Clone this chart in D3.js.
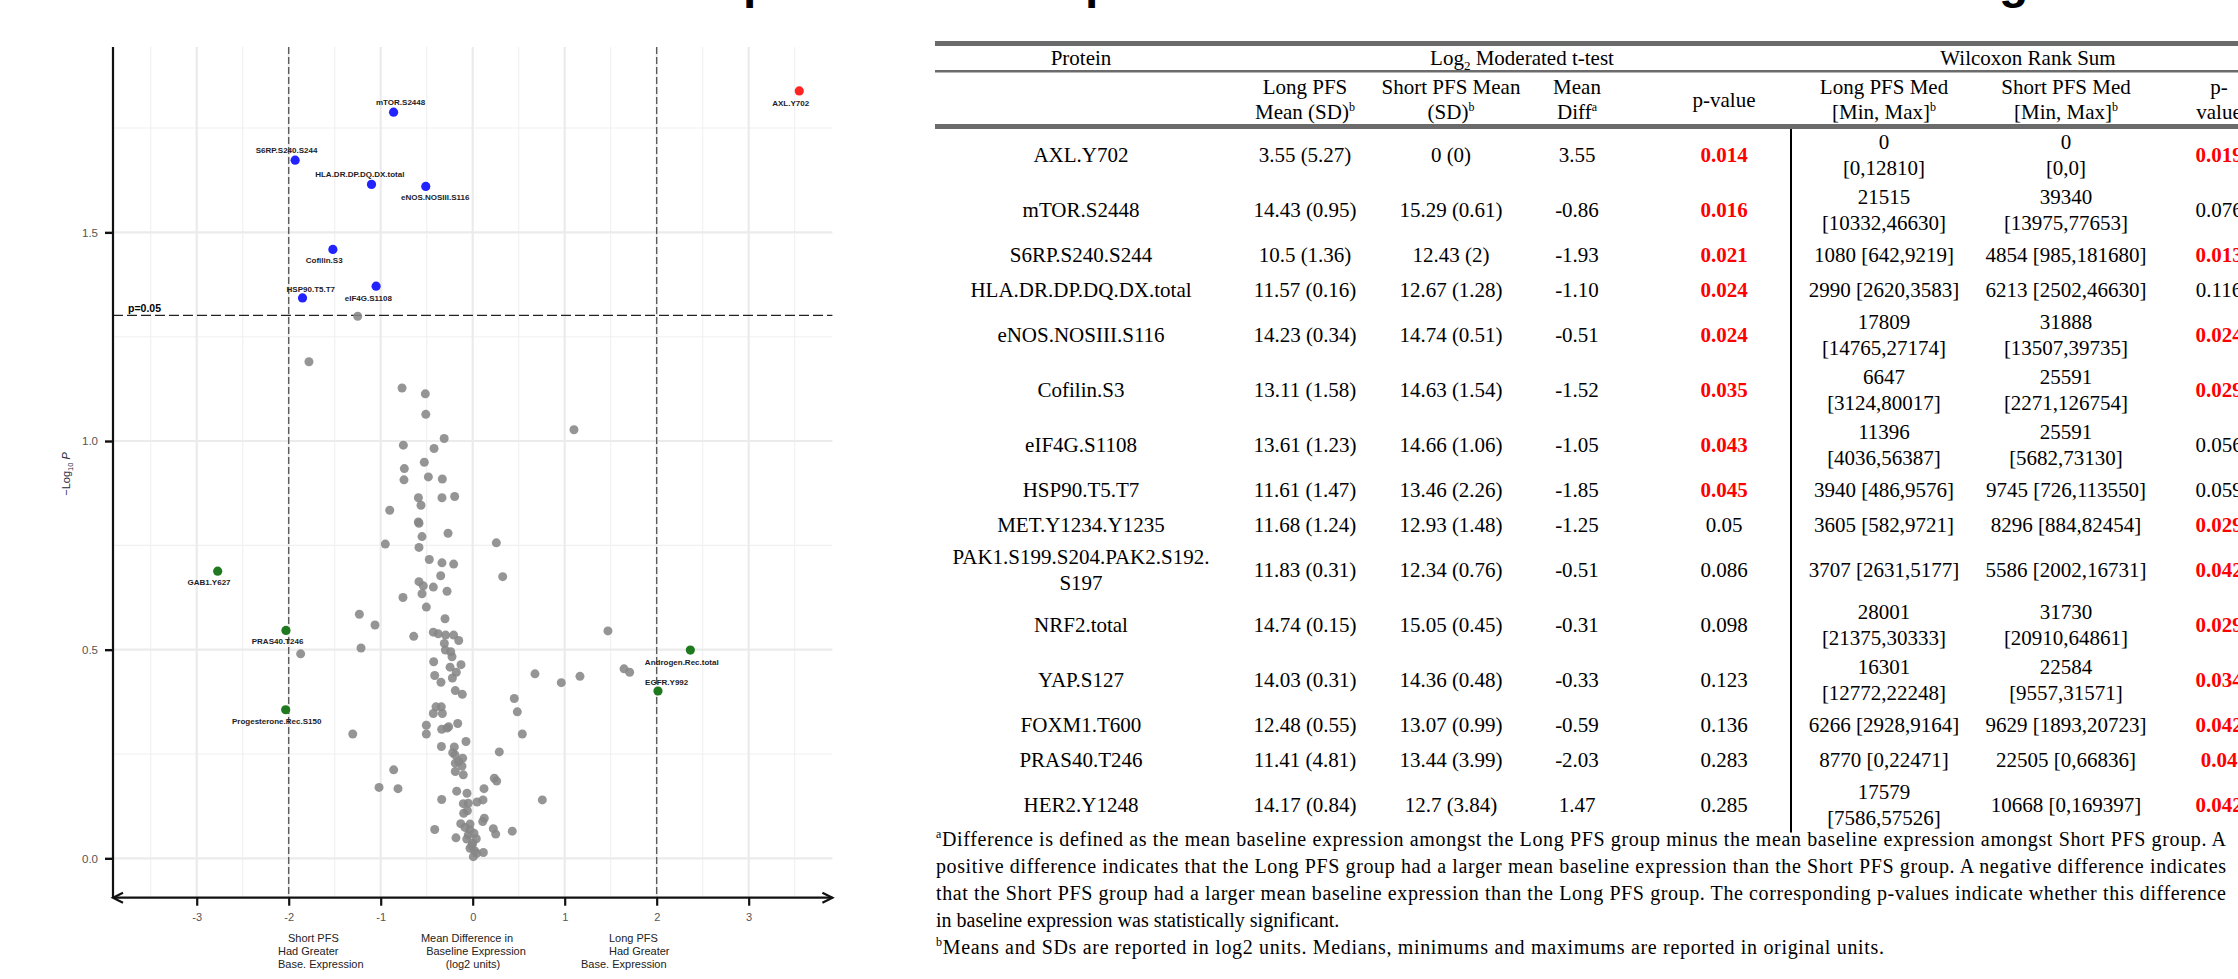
<!DOCTYPE html>
<html>
<head>
<meta charset="utf-8">
<script src="https://cdn.jsdelivr.net/npm/d3@7"></script>
<style>
  html, body { margin: 0; padding: 0; background: #fff; overflow: hidden; }
  svg { display: block; }
</style>
</head>
<body>
<svg id="fig" width="2238" height="979"></svg>
<script>
// ---------------- volcano plot data ----------------
// proteins that did not reach significance (mean difference, -log10 p)
const grayX = [-1.78,-1.25,-0.768,-0.515,-0.51,-0.31,-0.754,-0.42,1.101,-0.526,-0.743,-0.482,-0.33,-0.747,-0.59,-0.334,-0.196,-0.562,
  -0.902,-0.591,-0.584,-0.551,-0.268,-0.950,-0.584,0.257,-0.472,-0.334,-0.207,0.326,-0.348,-0.584,-0.537,-0.428,-0.279,-0.551,-0.758,-0.504,
  -1.232,-0.301,-1.062,-0.641,-0.428,-0.374,-0.294,-0.207,-0.152,-0.308,-1.214,-1.870,-0.297,-0.239,-0.225,-0.424,-0.127,-0.246,-0.178,-0.413,
  -0.221,-0.345,-0.189,-0.113,-0.399,-0.341,-0.428,-0.330,-0.163,-0.504,-0.337,-0.279,-0.261,-0.504,-1.304,-0.073,-0.340,-0.200,-0.217,-0.192,
  -0.109,-0.152,-0.189,-0.116,-0.859,-0.189,-0.102,-1.018,-0.812,-0.174,-0.062,-0.337,
  0.677,0.963,1.166,0.452,0.485,0.539,0.289,0.123,0.235,0.261,0.757,-0.102,-0.048,0.047,0.112,-0.058,-0.098,0.126,0.109,-0.413,
  -0.130,-0.084,-0.029,-0.029,0.014,-0.048,0.039,-0.065,-0.182,0.224,0.250,0.430,-0.029,0.000,0.116,0.007,0.043,0.020,-0.010,
  1.47,1.645,1.706];
const grayY = [1.190,1.299,1.127,1.113,1.064,1.006,0.990,0.982,1.027,0.949,0.934,0.914,0.909,0.907,0.864,0.864,0.867,0.846,
  0.834,0.806,0.803,0.771,0.779,0.753,0.745,0.756,0.716,0.708,0.705,0.675,0.677,0.663,0.653,0.650,0.640,0.634,0.625,0.602,
  0.585,0.574,0.559,0.532,0.542,0.538,0.535,0.535,0.522,0.515,0.504,0.490,0.499,0.495,0.483,0.471,0.464,0.458,0.446,0.438,
  0.432,0.422,0.402,0.393,0.363,0.363,0.347,0.347,0.323,0.319,0.309,0.312,0.315,0.298,0.298,0.280,0.268,0.267,0.253,0.248,
  0.240,0.232,0.228,0.221,0.212,0.208,0.200,0.170,0.167,0.161,0.156,0.141,
  0.442,0.421,0.436,0.383,0.351,0.298,0.255,0.167,0.192,0.185,0.140,0.131,0.132,0.135,0.140,0.114,0.108,0.096,0.088,0.069,
  0.083,0.074,0.082,0.068,0.060,0.056,0.047,0.046,0.049,0.071,0.058,0.065,0.024,0.036,0.014,0.004,0.012,0.018,0.030,
  0.545,0.454,0.446];

// labelled proteins
const hitNames = ["AXL.Y702","mTOR.S2448","S6RP.S240.S244","HLA.DR.DP.DQ.DX.total","eNOS.NOSIII.S116","Cofilin.S3",
  "eIF4G.S1108","HSP90.T5.T7","GAB1.Y627","PRAS40.T246","Progesterone.Rec.S150","Androgen.Rec.total","EGFR.Y992"];
const hitX = [3.55,-0.86,-1.93,-1.10,-0.51,-1.52,-1.05,-1.85,-2.772,-2.03,-2.033,2.366,2.014];
const hitY = [1.839,1.788,1.673,1.615,1.610,1.459,1.371,1.343,0.688,0.546,0.356,0.499,0.401];
const hitGroup = ["higher","lower","lower","lower","lower","lower","lower","lower","foldchange","foldchange","foldchange","foldchange","foldchange"];

const xTicks = [-3,-2,-1,0,1,2,3];
const yTicks = [0,0.5,1.0,1.5];
const pCutoff = 0.05;
const foldCut = [-2, 2];

// ---------------- table data ----------------
const proteins = ["AXL.Y702","mTOR.S2448","S6RP.S240.S244","HLA.DR.DP.DQ.DX.total","eNOS.NOSIII.S116","Cofilin.S3",
  "eIF4G.S1108","HSP90.T5.T7","MET.Y1234.Y1235","PAK1.S199.S204.PAK2.S192.\nS197","NRF2.total","YAP.S127",
  "FOXM1.T600","PRAS40.T246","HER2.Y1248"];
const longMean = ["3.55 (5.27)","14.43 (0.95)","10.5 (1.36)","11.57 (0.16)","14.23 (0.34)","13.11 (1.58)","13.61 (1.23)",
  "11.61 (1.47)","11.68 (1.24)","11.83 (0.31)","14.74 (0.15)","14.03 (0.31)","12.48 (0.55)","11.41 (4.81)","14.17 (0.84)"];
const shortMean = ["0 (0)","15.29 (0.61)","12.43 (2)","12.67 (1.28)","14.74 (0.51)","14.63 (1.54)","14.66 (1.06)",
  "13.46 (2.26)","12.93 (1.48)","12.34 (0.76)","15.05 (0.45)","14.36 (0.48)","13.07 (0.99)","13.44 (3.99)","12.7 (3.84)"];
const meanDiff = [3.55,-0.86,-1.93,-1.10,-0.51,-1.52,-1.05,-1.85,-1.25,-0.51,-0.31,-0.33,-0.59,-2.03,1.47];
const tPvalue = [0.014,0.016,0.021,0.024,0.024,0.035,0.043,0.045,0.05,0.086,0.098,0.123,0.136,0.283,0.285];
const longMed = ["0\n[0,12810]","21515\n[10332,46630]","1080 [642,9219]","2990 [2620,3583]","17809\n[14765,27174]",
  "6647\n[3124,80017]","11396\n[4036,56387]","3940 [486,9576]","3605 [582,9721]","3707 [2631,5177]",
  "28001\n[21375,30333]","16301\n[12772,22248]","6266 [2928,9164]","8770 [0,22471]","17579\n[7586,57526]"];
const shortMed = ["0\n[0,0]","39340\n[13975,77653]","4854 [985,181680]","6213 [2502,46630]","31888\n[13507,39735]",
  "25591\n[2271,126754]","25591\n[5682,73130]","9745 [726,113550]","8296 [884,82454]","5586 [2002,16731]",
  "31730\n[20910,64861]","22584\n[9557,31571]","9629 [1893,20723]","22505 [0,66836]","10668 [0,169397]"];
const wPvalue = [0.019,0.076,0.013,0.116,0.024,0.029,0.056,0.059,0.029,0.042,0.029,0.034,0.042,0.04,0.042];

const footnotes = [
  ["a","Difference is defined as the mean baseline expression amongst the Long PFS group minus the mean baseline expression amongst Short PFS group. A"],
  ["","positive difference indicates that the Long PFS group had a larger mean baseline expression than the Short PFS group. A negative difference indicates"],
  ["","that the Short PFS group had a larger mean baseline expression than the Long PFS group. The corresponding p-values indicate whether this difference"],
  ["","in baseline expression was statistically significant."],
  ["b","Means and SDs are reported in log2 units. Medians, minimums and maximums are reported in original units."]
];

// ---------------- drawing ----------------
const svg = d3.select("#fig");
const SANS = "'Liberation Sans', Arial, sans-serif";
const SERIF = "'Liberation Serif', 'Times New Roman', serif";

// heading running off the top edge of the page
const heading = svg.append("g").attr("font-family", SANS).attr("font-weight", "bold").attr("font-size", 48).attr("fill", "#000");
[["p", 743], ["p", 1085], ["g", 1999]].forEach(([ch, hx]) => {
  heading.append("text").attr("x", hx).attr("y", -2).text(ch);
});

// ---- volcano panel ----
const panel = { left: 113, right: 832.4, top: 47, bottom: 897 };
const x = d3.scaleLinear().domain([-3.91, 3.91]).range([panel.left, panel.right]);
const y = d3.scaleLinear().domain([-0.0927, 1.9442]).range([panel.bottom, panel.top]);
const vg = svg.append("g");

// grid
const minorXs = d3.range(-3.5, 3.6, 1);
const minorYs = [0.25, 0.75, 1.25, 1.75];
vg.selectAll(".gxm").data(minorXs).join("line")
  .attr("x1", d => x(d)).attr("x2", d => x(d)).attr("y1", panel.top).attr("y2", panel.bottom)
  .attr("stroke", "#f0f0f0").attr("stroke-width", 1.1);
vg.selectAll(".gym").data(minorYs).join("line")
  .attr("x1", panel.left).attr("x2", panel.right).attr("y1", d => y(d)).attr("y2", d => y(d))
  .attr("stroke", "#f0f0f0").attr("stroke-width", 1.1);
vg.selectAll(".gxM").data(xTicks).join("line")
  .attr("x1", d => x(d)).attr("x2", d => x(d)).attr("y1", panel.top).attr("y2", panel.bottom)
  .attr("stroke", "#ebebeb").attr("stroke-width", 2.2);
vg.selectAll(".gyM").data(yTicks).join("line")
  .attr("x1", panel.left).attr("x2", panel.right).attr("y1", d => y(d)).attr("y2", d => y(d))
  .attr("stroke", "#ebebeb").attr("stroke-width", 2.2);

// threshold lines
vg.selectAll(".vcut").data(foldCut).join("line")
  .attr("x1", d => x(d)).attr("x2", d => x(d)).attr("y1", panel.top).attr("y2", panel.bottom)
  .attr("stroke", "#555").attr("stroke-width", 1.3).attr("stroke-dasharray", "7,3");
vg.append("line")
  .attr("x1", panel.left).attr("x2", panel.right)
  .attr("y1", y(-Math.log10(pCutoff))).attr("y2", y(-Math.log10(pCutoff)))
  .attr("stroke", "#222").attr("stroke-width", 1.3).attr("stroke-dasharray", "10,4");
vg.append("text").attr("x", 128).attr("y", y(-Math.log10(pCutoff)) - 3)
  .attr("font-family", SANS).attr("font-size", 10.5).attr("font-weight", "bold").attr("fill", "#000")
  .text("p=0.05");

// points
const grayPts = grayX.map((v, i) => ({ x: v, y: grayY[i] }));
vg.selectAll(".gp").data(grayPts).join("circle")
  .attr("cx", d => x(d.x)).attr("cy", d => y(d.y)).attr("r", 4.5)
  .attr("fill", "#868686").attr("fill-opacity", 0.88);

const groupColor = { higher: "#ff2424", lower: "#2323ff", foldchange: "#1f7a1f" };
const hits = hitNames.map((n, i) => ({ name: n, x: hitX[i], y: hitY[i], group: hitGroup[i] }));
vg.selectAll(".hp").data(hits).join("circle")
  .attr("cx", d => x(d.x)).attr("cy", d => y(d.y)).attr("r", 4.6)
  .attr("fill", d => groupColor[d.group]);

// label placement relative to each point: [dx, dy]
const labelOffset = {
  "AXL.Y702": [-8.6, 15], "mTOR.S2448": [7, -7.5], "S6RP.S240.S244": [-8.6, -7.5],
  "HLA.DR.DP.DQ.DX.total": [-11.7, -7.2], "eNOS.NOSIII.S116": [9.4, 14], "Cofilin.S3": [-8.7, 14],
  "eIF4G.S1108": [-7.7, 15], "HSP90.T5.T7": [8.3, -6.3], "GAB1.Y627": [-8.7, 14],
  "PRAS40.T246": [-8.4, 13.8], "Progesterone.Rec.S150": [-9, 14.3], "Androgen.Rec.total": [-8.6, 15],
  "EGFR.Y992": [8.7, -6.3]
};
vg.selectAll(".hl").data(hits).join("text")
  .attr("x", d => x(d.x) + labelOffset[d.name][0])
  .attr("y", d => y(d.y) + labelOffset[d.name][1])
  .attr("text-anchor", "middle")
  .attr("font-family", SANS).attr("font-size", 8).attr("font-weight", "bold").attr("fill", "#1c1c28")
  .text(d => d.name);

// y axis
vg.append("line").attr("x1", panel.left).attr("x2", panel.left).attr("y1", panel.top).attr("y2", panel.bottom + 1)
  .attr("stroke", "#111").attr("stroke-width", 2.2);
const yAx = vg.append("g").attr("transform", `translate(${panel.left},0)`)
  .call(d3.axisLeft(y).tickValues(yTicks).tickFormat(d3.format(".1f")).tickSize(8).tickPadding(7));
yAx.select(".domain").remove();
yAx.selectAll(".tick line").attr("stroke", "#111").attr("stroke-width", 2.4);
yAx.selectAll(".tick text").attr("fill", "#555").attr("font-family", SANS).attr("font-size", 11.5);

// y axis title
const yt = vg.append("text").attr("transform", "translate(70,474) rotate(-90)")
  .attr("text-anchor", "middle").attr("font-family", SANS).attr("font-size", 11).attr("fill", "#2a2a3a");
yt.append("tspan").text("\u2212Log");
yt.append("tspan").attr("font-size", 7.5).attr("dy", 3).text("10");
yt.append("tspan").attr("dy", -3).text(" ");
yt.append("tspan").attr("font-style", "italic").text("P");

// x axis with arrow ends
const axY = panel.bottom + 0.7;
vg.append("line").attr("x1", panel.left).attr("x2", panel.right).attr("y1", axY).attr("y2", axY)
  .attr("stroke", "#111").attr("stroke-width", 2.2);
vg.append("path")
  .attr("d", `M${panel.left + 10},${axY - 5} L${panel.left},${axY} L${panel.left + 10},${axY + 5}`
    + ` M${panel.right - 10},${axY - 5} L${panel.right},${axY} L${panel.right - 10},${axY + 5}`)
  .attr("fill", "none").attr("stroke", "#111").attr("stroke-width", 2.2);
const xAx = vg.append("g").attr("transform", `translate(0,${axY})`)
  .call(d3.axisBottom(x).tickValues(xTicks).tickFormat(d => String(d)).tickSize(8).tickPadding(8));
xAx.select(".domain").remove();
xAx.selectAll(".tick line").attr("stroke", "#111").attr("stroke-width", 2.2);
xAx.selectAll(".tick text").attr("fill", "#555").attr("font-family", SANS).attr("font-size", 11);

// captions under the x axis
const capLines = [
  ["Short PFS", 288, "start", 942], ["Had Greater", 278, "start", 955], ["Base. Expression", 278, "start", 968],
  ["Mean Difference in", 467, "middle", 942], ["Baseline Expression", 476, "middle", 955], ["(log2 units)", 473, "middle", 968],
  ["Long PFS", 609, "start", 942], ["Had Greater", 609, "start", 955], ["Base. Expression", 581, "start", 968]
];
vg.selectAll(".cap").data(capLines).join("text")
  .attr("x", d => d[1]).attr("y", d => d[3]).attr("text-anchor", d => d[2])
  .attr("font-family", SANS).attr("font-size", 11).attr("fill", "#222")
  .text(d => d[0]);

// ---- table ----
const tg = svg.append("g").attr("font-family", SERIF).attr("font-size", 21).attr("fill", "#000");
const tLeft = 935, tRight = 2238;
const colX = [1081, 1305, 1451, 1577, 1724, 1884, 2066, 2219];
const divX = 1791;
const ruleColor = "#6b6b6b";

tg.append("rect").attr("x", tLeft).attr("y", 41).attr("width", tRight - tLeft).attr("height", 5).attr("fill", ruleColor);
tg.append("rect").attr("x", tLeft).attr("y", 70).attr("width", tRight - tLeft).attr("height", 2.5).attr("fill", ruleColor);
tg.append("rect").attr("x", tLeft).attr("y", 124).attr("width", tRight - tLeft).attr("height", 5).attr("fill", ruleColor);

// header row 1
tg.append("text").attr("x", colX[0]).attr("y", 65).attr("text-anchor", "middle").text("Protein");
const h1 = tg.append("text").attr("x", 1522).attr("y", 65).attr("text-anchor", "middle");
h1.append("tspan").text("Log");
h1.append("tspan").attr("font-size", 13).attr("dy", 5).text("2");
h1.append("tspan").attr("dy", -5).text(" Moderated t-test");
tg.append("text").attr("x", 2028).attr("y", 65).attr("text-anchor", "middle").text("Wilcoxon Rank Sum");

// header row 2 : [column, lines, superscript on last line]
const subHeads = [
  [1, ["Long PFS", "Mean (SD)"], "b"],
  [2, ["Short PFS Mean", "(SD)"], "b"],
  [3, ["Mean", "Diff"], "a"],
  [4, ["p-value"], ""],
  [5, ["Long PFS Med", "[Min, Max]"], "b"],
  [6, ["Short PFS Med", "[Min, Max]"], "b"],
  [7, ["p-", "value"], ""]
];
subHeads.forEach(([c, lines, sup]) => {
  lines.forEach((ln, i) => {
    const yc = lines.length === 1 ? 100 : (i === 0 ? 87 : 112);
    const t = tg.append("text").attr("x", colX[c]).attr("y", yc + 7).attr("text-anchor", "middle");
    t.append("tspan").text(ln);
    if (sup && i === lines.length - 1) t.append("tspan").attr("font-size", 12).attr("dy", -8).text(sup);
  });
});

// body rows: two-line rows are taller
const twoLine = proteins.map((p, i) => [p, longMed[i], shortMed[i]].some(s => s.includes("\n")));
const rowH = twoLine.map(t => t ? 55 : 35);
let acc = 127.5;
const rowC = rowH.map(h => { const c = acc + h / 2; acc += h; return c; });

function cell(xc, yc, content, sig) {
  const lines = String(content).split("\n");
  lines.forEach((ln, i) => {
    const yy = yc + (i - (lines.length - 1) / 2) * 26 + 7;
    tg.append("text").attr("x", xc).attr("y", yy).attr("text-anchor", "middle")
      .attr("fill", sig ? "#ff0000" : "#000").attr("font-weight", sig ? "bold" : "normal")
      .text(ln);
  });
}
proteins.forEach((p, i) => {
  const yc = rowC[i];
  cell(colX[0], yc, p, false);
  cell(colX[1], yc, longMean[i], false);
  cell(colX[2], yc, shortMean[i], false);
  cell(colX[3], yc, meanDiff[i].toFixed(2), false);
  cell(colX[4], yc, String(tPvalue[i]), tPvalue[i] < pCutoff);
  cell(colX[5], yc, longMed[i], false);
  cell(colX[6], yc, shortMed[i], false);
  cell(colX[7], yc, String(wPvalue[i]), wPvalue[i] < pCutoff);
});

// divider between the two test blocks
tg.append("line").attr("x1", divX).attr("x2", divX).attr("y1", 129).attr("y2", acc)
  .attr("stroke", "#000").attr("stroke-width", 2);

// footnotes
const fg = svg.append("g").attr("font-family", SERIF).attr("font-size", 20).attr("fill", "#000");
const noteWidth = [1290, 1290, 1290, 0, 948];
footnotes.forEach(([mark, txt], i) => {
  const t = fg.append("text").attr("x", 936).attr("y", 846 + i * 26.9);
  if (mark) {
    t.append("tspan").attr("font-size", 12).attr("dy", -8).text(mark);
    t.append("tspan").attr("dy", 8).text(txt);
  } else {
    t.text(txt);
  }
  if (noteWidth[i]) t.attr("textLength", noteWidth[i]).attr("lengthAdjust", "spacing");
});
</script>
</body>
</html>
